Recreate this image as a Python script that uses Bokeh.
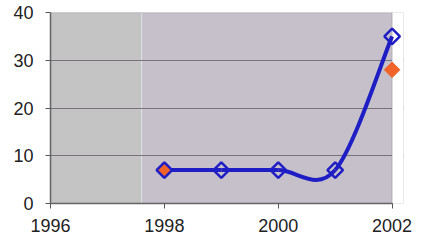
import numpy as np
from bokeh.plotting import figure
from bokeh.models import BoxAnnotation, FixedTicker, Span
from bokeh.embed import file_html
from bokeh.resources import INLINE

# ---- data ----
years = [1998, 1999, 2000, 2001, 2002]
values = [7, 7, 7, 7, 35]
orange_years = [1998, 2002]
orange_values = [7, 28]
x_ticks = [1996, 1998, 2000, 2002]
y_ticks = [0, 10, 20, 30, 40]
x_start, x_end = 1996, 2002
y_start, y_end = 0, 40
shade_end = 1997.6

p = figure(width=413, height=235, output_backend="svg", toolbar_location=None,
           x_range=(x_start, x_end + 0.2), y_range=(y_start, y_end),
           min_border_left=50, min_border_right=10, min_border_top=12, min_border_bottom=32)
p.background_fill_color = "#c5c0ca"
p.border_fill_color = "white"
p.outline_line_color = None

# light grey band on the left (under the grid)
p.add_layout(BoxAnnotation(left=x_start, right=shade_end, fill_color="#c4c4c4",
                           fill_alpha=1.0, line_color=None, level="image"))
p.add_layout(Span(location=shade_end, dimension="height", line_color="#e2e2e2",
                  line_width=1, level="image"))
# white area beyond the plot's right edge (over the grid)
p.add_layout(BoxAnnotation(left=x_end, fill_color="white", fill_alpha=1.0,
                           line_color=None, level="underlay"))
# plot-area border
p.add_layout(BoxAnnotation(left=x_start, right=x_end, bottom=y_start, top=y_end,
                           fill_alpha=0, line_color="#8a8a8a", line_width=1.5,
                           level="underlay"))

p.xgrid.visible = False
p.ygrid.ticker = FixedTicker(ticks=y_ticks[1:-1])
p.ygrid.grid_line_color = "#77727c"
p.ygrid.grid_line_width = 1

for ax in (p.xaxis[0], p.yaxis[0]):
    ax.axis_line_color = "#666666"
    ax.axis_line_width = 1.5
    ax.major_tick_line_color = "#555555"
    ax.major_tick_out = 5
    ax.major_tick_in = 0
    ax.minor_tick_line_color = None
    ax.major_label_text_font = "Liberation Sans"
    ax.major_label_text_font_size = "18px"
    ax.major_label_text_color = "#222222"
p.xaxis.ticker = FixedTicker(ticks=x_ticks)
p.xaxis.bounds = (x_start, x_end)
p.yaxis.ticker = FixedTicker(ticks=y_ticks)
p.xaxis.major_label_standoff = 10
p.yaxis.major_label_standoff = 12

# smoothed line (Excel-style Bezier through the data points)
xs = np.array(years, dtype=float)
ys = np.array(values, dtype=float)
n = len(xs)
def pt(i):
    i = min(max(i, 0), n - 1)
    return xs[i], ys[i]
x0, y0, x1, y1, cx0, cy0, cx1, cy1 = ([] for _ in range(8))
for i in range(n - 1):
    pa, pb = pt(i), pt(i + 1)
    pm, pn = pt(i - 1), pt(i + 2)
    x0.append(pa[0]); y0.append(pa[1]); x1.append(pb[0]); y1.append(pb[1])
    cx0.append(pa[0] + (pb[0] - pm[0]) / 6); cy0.append(pa[1] + (pb[1] - pm[1]) / 6)
    cx1.append(pb[0] - (pn[0] - pa[0]) / 6); cy1.append(pb[1] - (pn[1] - pa[1]) / 6)
p.bezier(x0=x0, y0=y0, x1=x1, y1=y1, cx0=cx0, cy0=cy0, cx1=cx1, cy1=cy1,
         line_color="#1e1ec4", line_width=4)

p.scatter(orange_years, orange_values, marker="square", size=11, angle=np.pi / 4,
          fill_color="#f0642a", line_color="#f0642a", line_width=1)
p.scatter(years, values, marker="square", size=11, angle=np.pi / 4,
          fill_alpha=0, line_color="#1e1ec4", line_width=2.5)

open("out.html", "w").write(file_html(p, INLINE))
